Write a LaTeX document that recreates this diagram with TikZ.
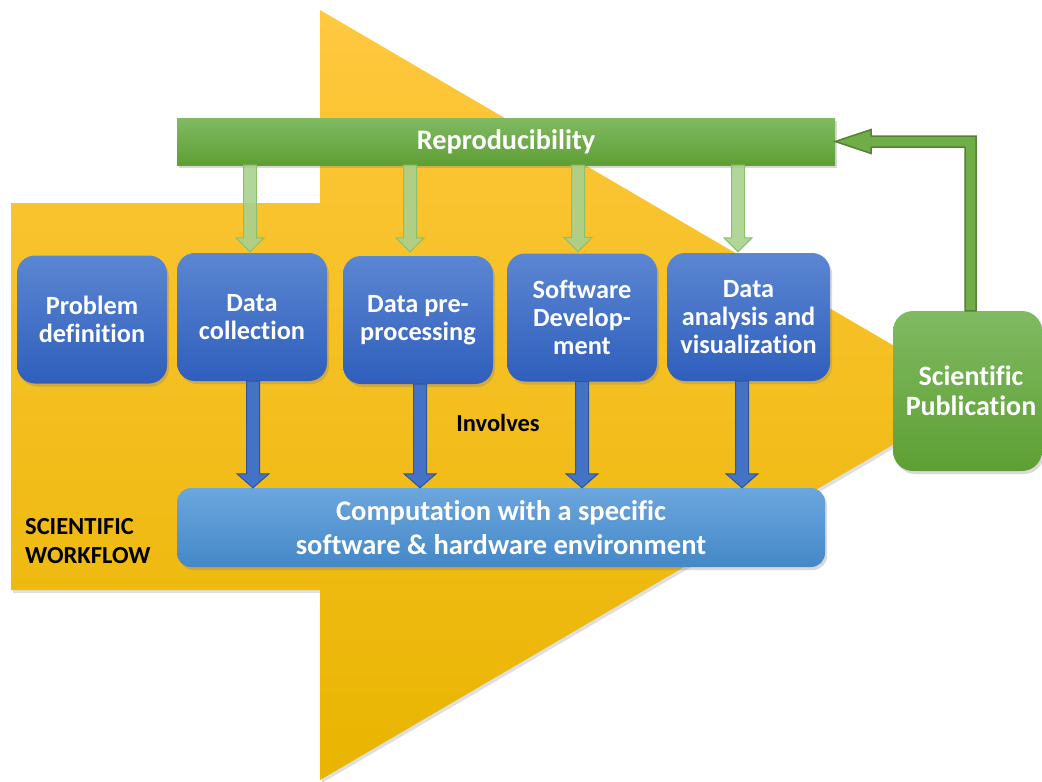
\documentclass[tikz,border=0pt]{standalone}
\usepackage{fontspec}
\setmainfont{Carlito}[Ligatures=NoCommon]
\usetikzlibrary{shadows,calc}
\definecolor{yTop}{HTML}{FFC83F}
\definecolor{yMid}{HTML}{FFC106}
\definecolor{yBot}{HTML}{E9B500}
\definecolor{bTop}{HTML}{5B86D2}
\definecolor{bBot}{HTML}{2F5FBC}
\definecolor{cTop}{HTML}{6CA6DD}
\definecolor{cBot}{HTML}{4488C8}
\definecolor{gTop}{HTML}{80BA62}
\definecolor{gBot}{HTML}{5E9F34}
\definecolor{gArrF}{HTML}{A9D18E}
\definecolor{gArrD}{HTML}{8CC06A}
\definecolor{bArrF}{HTML}{4472C4}
\definecolor{bArrD}{HTML}{2F5597}
\definecolor{fbF}{HTML}{70AD47}
\definecolor{fbD}{HTML}{538135}
\tikzset{
  shad/.style={drop shadow={shadow xshift=2pt,shadow yshift=-3pt,opacity=0.3}},
  stage/.style={rounded corners=18pt,top color=bTop,bottom color=bBot,text=white,
    font=\bfseries\fontsize{26.3}{28}\selectfont,align=center,inner sep=0pt,
    minimum width=150pt,minimum height=128pt,shad},
  compbox/.style={rounded corners=14pt,top color=cTop,bottom color=cBot,text=white,
    font=\bfseries\fontsize{28.5}{34}\selectfont,align=center,inner sep=0pt,
    minimum width=648pt,minimum height=79pt,shad},
  repbox/.style={top color=gTop,bottom color=gBot,text=white,
    font=\bfseries\fontsize{28.3}{30}\selectfont,inner sep=0pt,
    minimum width=658pt,minimum height=47pt,shad},
  pubbox/.style={rounded corners=20pt,top color=gTop,bottom color=gBot,text=white,
    font=\bfseries\fontsize{28}{30}\selectfont,align=center,inner sep=0pt,
    minimum width=149pt,minimum height=160pt,shad},
  lbl/.style={font=\bfseries\fontsize{24.5}{29}\selectfont,text=black,align=left,inner sep=0pt},
  greenarr/.style={fill=gArrF,draw=gArrD,line width=1pt,fill opacity=0.9},
  bluearr/.style={fill=bArrF,draw=bArrD,line width=1pt},
  fbarrow/.style={fill=fbF,draw=fbD,line width=1.5pt,line join=miter},
}
% vertical block arrow: style, from, to, shaft half width, head half width, head length
\newcommand{\vblock}[6]{%
  \draw[#1] let \p1=(#2), \p2=(#3) in
    (\x2-#4,\y1) -- (\x2+#4,\y1) -- (\x2+#4,\y2+#6) -- (\x2+#5,\y2+#6) -- (\x2,\y2)
    -- (\x2-#5,\y2+#6) -- (\x2-#4,\y2+#6) -- cycle;}
\begin{document}
\begin{tikzpicture}[x=1pt,y=-1pt]
\useasboundingbox (0,0) rectangle (1042,782);
\clip (0,0) rectangle (1042,782);
% big yellow arrow
\path[top color=yTop,middle color=yMid,bottom color=yBot,
      drop shadow={shadow xshift=2pt,shadow yshift=-3pt,opacity=0.25}]
  (11,203) -- (320,203) -- (320,10) -- (978,395) -- (320,780) -- (320,590) -- (11,590) -- cycle;

% nodes
\node[repbox] (rep) at (506,141.5) {Reproducibility};
\node[stage] (pd) at (92,319.5) {Problem\\definition};
\node[stage] (dc) at (252,317) {Data\\collection};
\node[stage] (dpp) at (418,320) {Data pre-\\processing};
\node[stage] (sd) at (582,317.5) {Software\\Develop-\\ment};
\node[stage,minimum width=163pt] (da) at (748.5,317) {Data\\analysis and\\visualization};
\node[compbox] (comp) at (501,527.5) {Computation with a specific\\software \& hardware environment};
\node[pubbox] (pub) at (967.5,391) {};
\node[font=\bfseries\fontsize{28}{30}\selectfont,text=white,align=center,inner sep=0pt] (pubt) at (971,391) {Scientific\\Publication};
\node[lbl] (inv) at (498,423) {Involves};
\node[lbl,anchor=west] (sw) at (25,541) {SCIENTIFIC\\WORKFLOW};

% column coordinates
\coordinate (g1) at (250,0);
\coordinate (g2) at (410,0);
\coordinate (g3) at (578,0);
\coordinate (g4) at (738,0);
\coordinate (b1) at (253,0);
\coordinate (b2) at (420,0);
\coordinate (b3) at (582,0);
\coordinate (b4) at (742,0);

% green arrows from Reproducibility
\vblock{greenarr}{rep.south -| g1}{$(dc.north -| g1)+(0,-1)$}{6.5pt}{14pt}{14pt}
\vblock{greenarr}{rep.south -| g2}{$(dpp.north -| g2)+(0,-4)$}{6.5pt}{14pt}{14pt}
\vblock{greenarr}{rep.south -| g3}{$(sd.north -| g3)+(0,-2)$}{6.5pt}{14pt}{14pt}
\vblock{greenarr}{rep.south -| g4}{$(da.north -| g4)+(0,-1)$}{6.5pt}{14pt}{14pt}

% blue arrows to computation
\vblock{bluearr}{dc.south -| b1}{comp.north -| b1}{6.5pt}{16pt}{14pt}
\vblock{bluearr}{dpp.south -| b2}{comp.north -| b2}{6.5pt}{16pt}{14pt}
\vblock{bluearr}{sd.south -| b3}{comp.north -| b3}{6.5pt}{16pt}{14pt}
\vblock{bluearr}{da.south -| b4}{comp.north -| b4}{6.5pt}{16pt}{14pt}

% feedback arrow from publication to reproducibility
\draw[fbarrow] let \p1=($(pub.north)+(3,0)$), \p2=(rep.east) in
  (\x1-5.5pt,\y1) -- (\x1-5.5pt,\y2-5.5pt) -- (\x2+36pt,\y2-5.5pt) -- (\x2+36pt,\y2-12pt)
  -- (\p2) -- (\x2+36pt,\y2+12pt) -- (\x2+36pt,\y2+5.5pt) -- (\x1+5.5pt,\y2+5.5pt)
  -- (\x1+5.5pt,\y1) -- cycle;
\end{tikzpicture}
\end{document}
